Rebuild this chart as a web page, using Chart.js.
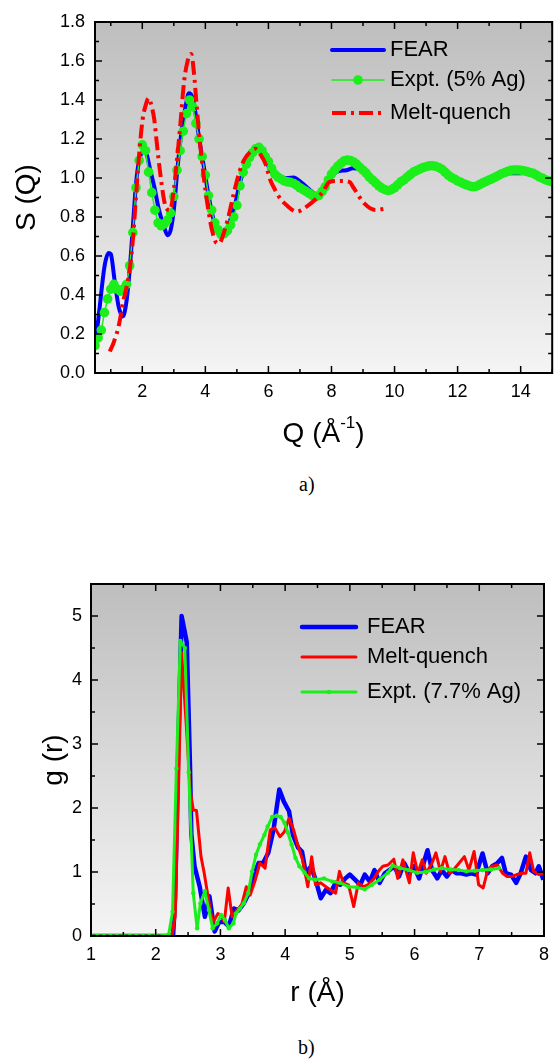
<!DOCTYPE html>
<html>
<head>
<meta charset="utf-8">
<script src="https://cdn.jsdelivr.net/npm/chart.js@4.4.1/dist/chart.umd.min.js"></script>
<style>
  html, body { margin: 0; padding: 0; background: #fff; }
  body { width: 557px; height: 1059px; position: relative; overflow: hidden; }
  canvas { position: absolute; left: 0; }
  #chartA { top: 0; }
  #chartB { top: 540px; }
  .tag { position: absolute; font-family: "Liberation Serif", "Times New Roman", serif; font-size: 20px; line-height: 20px; color: #000; }
</style>
</head>
<body>
<canvas id="chartA" width="557" height="450" style="width:557px;height:450px"></canvas>
<div class="tag" style="left:299px;top:474px">a)</div>
<canvas id="chartB" width="557" height="480" style="width:557px;height:480px"></canvas>
<div class="tag" style="left:298px;top:1037px">b)</div>
<script>
// ---- S(Q) panel ----
const qTicks = [2, 4, 6, 8, 10, 12, 14];
const sTicks = [0.0, 0.2, 0.4, 0.6, 0.8, 1.0, 1.2, 1.4, 1.6, 1.8];

const fearQ = [0.5, 0.55, 0.65, 0.8, 0.93, 1.0, 1.12, 1.25, 1.38, 1.49, 1.59, 1.7, 1.8, 1.9, 2.03, 2.14, 2.24, 2.38,
  2.53, 2.69, 2.8, 2.9, 3.01, 3.11, 3.25, 3.37, 3.48, 3.58, 3.69, 3.81, 3.95, 4.08, 4.21, 4.34, 4.47, 4.63, 4.79,
  4.95, 5.1, 5.3, 5.5, 5.65, 5.8, 5.95, 6.16, 6.47, 6.79, 7.1, 7.42, 7.58, 7.84, 8.15, 8.47, 8.68, 8.9, 9.15, 9.4,
  9.65, 9.85, 10.1, 10.4, 10.7, 11.0, 11.3, 11.6, 11.9, 12.2, 12.5, 12.8, 13.1, 13.4, 13.7, 14.0, 14.4, 14.7, 15.0];
const fearS = [0.15, 0.2, 0.34, 0.545, 0.615, 0.61, 0.477, 0.34, 0.29, 0.357, 0.51, 0.75, 0.97, 1.09, 1.135, 1.12, 1.05, 0.955,
  0.835, 0.75, 0.707, 0.733, 0.853, 1.04, 1.246, 1.365, 1.434, 1.417, 1.33, 1.195, 1.06, 0.93, 0.82, 0.74, 0.70, 0.715, 0.785,
  0.87, 0.98, 1.07, 1.13, 1.155, 1.13, 1.075, 1.024, 0.998, 1.003, 0.97, 0.925, 0.913, 0.97, 1.03, 1.04, 1.05, 1.045, 1.015, 0.98,
  0.955, 0.948, 0.965, 1.0, 1.035, 1.05, 1.055, 1.035, 1.0, 0.975, 0.96, 0.975, 1.0, 1.02, 1.025, 1.025, 1.03, 1.005, 0.98];

const meltQ = [0.97, 1.1, 1.25, 1.4, 1.5, 1.6, 1.7, 1.8, 1.91, 2.01, 2.11, 2.2, 2.3, 2.38, 2.45, 2.53, 2.61, 2.69, 2.76,
  2.88, 3.01, 3.11, 3.21, 3.32, 3.42, 3.55, 3.64, 3.71, 3.79, 3.9, 4.0, 4.11, 4.21, 4.37, 4.47, 4.58, 4.73, 4.9, 5.06,
  5.22, 5.4, 5.58, 5.75, 5.9, 6.06, 6.16, 6.37, 6.58, 6.9, 7.21, 7.47, 7.73, 7.94, 8.2, 8.57, 8.7, 9.04, 9.4, 9.78];
const meltS = [0.11, 0.16, 0.24, 0.37, 0.44, 0.53, 0.68, 0.905, 1.14, 1.30, 1.375, 1.41, 1.365, 1.30, 1.195, 1.075, 0.973, 0.887, 0.845,
  0.835, 0.955, 1.11, 1.28, 1.486, 1.588, 1.636, 1.537, 1.40, 1.246, 1.075, 0.94, 0.82, 0.733, 0.665, 0.67, 0.716, 0.80, 0.92, 1.02,
  1.09, 1.13, 1.15, 1.12, 1.075, 0.99, 0.955, 0.895, 0.86, 0.827, 0.853, 0.887, 0.93, 0.98, 0.985, 0.98, 0.95, 0.87, 0.836, 0.845];

const exptQ = [0.5, 0.6, 0.7, 0.8, 0.9, 1.0, 1.1, 1.2, 1.3, 1.4, 1.5, 1.6, 1.7, 1.8, 1.9, 2.0, 2.1, 2.2, 2.3, 2.4,
  2.5, 2.6, 2.7, 2.8, 2.9, 3.0, 3.1, 3.2, 3.3, 3.4, 3.5, 3.6, 3.7, 3.8, 3.9, 4.0, 4.1, 4.2, 4.3, 4.4,
  4.5, 4.6, 4.7, 4.8, 4.9, 5.0, 5.1, 5.2, 5.3, 5.4, 5.5, 5.6, 5.7, 5.8, 5.9, 6.0, 6.1, 6.2, 6.3, 6.4,
  6.5, 6.6, 6.7, 6.8, 6.9, 7.0, 7.1, 7.2, 7.3, 7.4, 7.5, 7.6, 7.7, 7.8, 7.9, 8.0, 8.1, 8.2, 8.3, 8.4,
  8.5, 8.6, 8.7, 8.8, 8.9, 9.0, 9.1, 9.2, 9.3, 9.4, 9.5, 9.6, 9.7, 9.8, 9.9, 10.0, 10.1, 10.2, 10.3, 10.4,
  10.5, 10.6, 10.7, 10.8, 10.9, 11.0, 11.1, 11.2, 11.3, 11.4, 11.5, 11.6, 11.7, 11.8, 11.9, 12.0, 12.1, 12.2, 12.3, 12.4,
  12.5, 12.6, 12.7, 12.8, 12.9, 13.0, 13.1, 13.2, 13.3, 13.4, 13.5, 13.6, 13.7, 13.8, 13.9, 14.0, 14.1, 14.2, 14.3, 14.4,
  14.5, 14.6, 14.7, 14.8, 14.9, 15.0];
const exptS = [0.14, 0.18, 0.22, 0.31, 0.38, 0.43, 0.455, 0.43, 0.42, 0.43, 0.455, 0.55, 0.72, 0.95, 1.09, 1.17, 1.14, 1.03, 0.925, 0.835,
  0.77, 0.755, 0.765, 0.785, 0.82, 0.905, 1.04, 1.14, 1.24, 1.33, 1.40, 1.365, 1.28, 1.20, 1.11, 1.015, 0.91, 0.835, 0.77, 0.735,
  0.71, 0.715, 0.73, 0.76, 0.80, 0.86, 0.96, 1.03, 1.07, 1.105, 1.13, 1.15, 1.157, 1.14, 1.11, 1.085, 1.05, 1.02, 1.005, 0.995,
  0.985, 0.98, 0.978, 0.972, 0.962, 0.95, 0.94, 0.93, 0.92, 0.91, 0.905, 0.91, 0.93, 0.955, 0.99, 1.02, 1.04, 1.06, 1.075, 1.088,
  1.092, 1.09, 1.082, 1.07, 1.055, 1.04, 1.025, 1.005, 0.99, 0.975, 0.96, 0.948, 0.94, 0.935, 0.94, 0.95, 0.965, 0.98, 0.99, 1.005,
  1.018, 1.03, 1.038, 1.046, 1.053, 1.058, 1.062, 1.063, 1.06, 1.054, 1.045, 1.03, 1.015, 1.003, 0.995, 0.985, 0.978, 0.97, 0.964, 0.958,
  0.955, 0.958, 0.966, 0.975, 0.982, 0.99, 0.997, 1.005, 1.013, 1.022, 1.028, 1.035, 1.04, 1.041, 1.041, 1.04, 1.037, 1.033, 1.028, 1.024,
  1.015, 1.005, 0.998, 0.99, 0.985, 0.98];

// ---- g(r) panel ----
const rTicks = [1, 2, 3, 4, 5, 6, 7, 8];
const gTicks = [0, 1, 2, 3, 4, 5];

const fearR = [1.0, 2.2, 2.27, 2.3, 2.35, 2.4, 2.48, 2.53, 2.55, 2.6, 2.68, 2.76, 2.83, 2.91, 2.98, 3.06, 3.13, 3.21, 3.28,
  3.36, 3.44, 3.51, 3.59, 3.66, 3.74, 3.82, 3.91, 3.98, 4.06, 4.12, 4.2, 4.26, 4.32, 4.4, 4.47, 4.55, 4.63, 4.7, 4.78,
  4.85, 4.93, 5.0, 5.08, 5.16, 5.23, 5.31, 5.38, 5.46, 5.54, 5.61, 5.69, 5.76, 5.84, 5.92, 5.99, 6.07, 6.14, 6.2, 6.27,
  6.35, 6.42, 6.5, 6.57, 6.65, 6.72, 6.8, 6.88, 6.95, 7.05, 7.13, 7.2, 7.28, 7.35, 7.41, 7.49, 7.57, 7.64, 7.72, 7.8,
  7.87, 7.92, 7.99];
const fearG = [0, 0, 0.03, 0.6, 3.0, 5.0, 4.59, 2.65, 1.6, 1.09, 0.77, 0.3, 0.62, 0.07, 0.22, 0.22, 0.15, 0.43, 0.4,
  0.51, 0.67, 0.93, 1.14, 1.14, 1.3, 1.66, 2.29, 2.1, 1.95, 1.58, 1.38, 1.32, 0.98, 1.09, 0.88, 0.59, 0.72, 0.67, 0.83,
  0.8, 0.9, 0.96, 0.88, 0.8, 0.96, 0.85, 1.03, 0.83, 0.98, 1.03, 1.09, 0.93, 1.14, 0.98, 1.09, 0.9, 1.14, 1.34, 1.03,
  0.9, 1.03, 0.93, 1.03, 0.98, 0.98, 0.96, 0.98, 0.96, 1.29, 0.98, 1.09, 1.14, 1.22, 0.98, 0.96, 0.83, 0.98, 1.24, 1.03,
  0.98, 1.09, 0.88];

const meltR = [1.0, 2.25, 2.3, 2.35, 2.4, 2.48, 2.53, 2.58, 2.63, 2.7, 2.75, 2.8, 2.88, 2.96, 3.0, 3.06, 3.12, 3.18, 3.26,
  3.33, 3.4, 3.46, 3.54, 3.61, 3.69, 3.77, 3.84, 3.92, 3.99, 4.06, 4.13, 4.2, 4.27, 4.35, 4.41, 4.47, 4.55, 4.63, 4.7,
  4.78, 4.84, 4.9, 4.98, 5.06, 5.13, 5.21, 5.28, 5.36, 5.44, 5.51, 5.59, 5.68, 5.74, 5.82, 5.92, 5.98, 6.05, 6.12, 6.18,
  6.27, 6.33, 6.4, 6.47, 6.54, 6.6, 6.69, 6.77, 6.84, 6.92, 6.99, 7.06, 7.13, 7.2, 7.28, 7.36, 7.43, 7.51, 7.58, 7.66,
  7.72, 7.78, 7.84, 7.92, 8.0];
const meltG = [0, 0, 0.3, 2.2, 4.43, 3.18, 2.3, 1.97, 1.96, 1.24, 0.98, 0.67, 0.2, 0.35, 0.33, 0.22, 0.75, 0.3, 0.41,
  0.49, 0.77, 0.64, 0.88, 1.14, 1.06, 1.66, 1.69, 1.55, 1.63, 1.84, 1.66, 1.4, 1.19, 0.77, 1.24, 0.8, 0.83, 0.77, 0.72,
  0.67, 1.01, 0.83, 0.8, 0.46, 0.83, 0.77, 0.8, 0.88, 1.01, 1.09, 1.11, 1.2, 0.9, 1.19, 0.83, 1.3, 0.98, 1.19, 0.98,
  1.14, 1.3, 1.01, 1.24, 0.98, 1.03, 1.14, 1.24, 1.03, 1.32, 0.8, 0.75, 1.03, 1.09, 1.11, 0.98, 0.93, 0.93, 0.96, 0.98,
  0.98, 1.3, 1.01, 0.96, 0.98];

const exptR = [1.0, 1.1, 1.2, 1.3, 1.4, 1.5, 1.6, 1.7, 1.8, 1.9, 2.0, 2.1, 2.2, 2.26, 2.32, 2.38, 2.45, 2.51, 2.58, 2.64,
  2.69, 2.76, 2.82, 2.88, 2.95, 3.01, 3.07, 3.13, 3.2, 3.24, 3.3, 3.36, 3.43, 3.49, 3.55, 3.61, 3.68, 3.73, 3.8, 3.87,
  3.93, 3.99, 4.04, 4.1, 4.16, 4.22, 4.3, 4.37, 4.47, 4.6, 4.73, 4.85, 4.98, 5.11, 5.23, 5.34, 5.46, 5.59, 5.66, 5.78,
  5.91, 6.04, 6.17, 6.3, 6.42, 6.55, 6.68, 6.8, 6.93, 7.05, 7.18, 7.3];
const exptG = [0, 0, 0, 0, 0, 0, 0, 0, 0, 0, 0, 0, 0.02, 0.38, 2.62, 4.61, 4.5, 2.56, 0.67, 0.12,
  0.51, 0.7, 0.41, 0.12, 0.2, 0.33, 0.25, 0.12, 0.2, 0.35, 0.43, 0.51, 0.67, 1.01, 1.27, 1.43, 1.58, 1.71, 1.86, 1.88,
  1.86, 1.77, 1.62, 1.43, 1.22, 1.09, 0.99, 0.9, 0.88, 0.9, 0.85, 0.83, 0.77, 0.76, 0.73, 0.8, 0.88, 0.99, 1.1, 1.06,
  1.03, 0.99, 1.0, 1.04, 1.06, 1.04, 1.03, 1.01, 1.02, 1.03, 1.04, 1.06];

const pts = (xs, ys) => xs.map((v, i) => ({ x: v, y: ys[i] }));

const FONT = '"Liberation Sans", Arial, Helvetica, sans-serif';
const BLUE = '#0000ff';
const RED = '#ff0000';
const GREEN = '#1aef1a';

// gray gradient inside the plot, black frame with inward ticks on all four sides
const framePlugin = {
  id: 'frame',
  beforeDatasetsDraw(chart) {
    const { ctx, chartArea: a } = chart;
    const grad = ctx.createLinearGradient(0, a.top, 0, a.bottom);
    grad.addColorStop(0, '#bebebe');
    grad.addColorStop(1, '#f4f4f4');
    ctx.save();
    ctx.fillStyle = grad;
    ctx.fillRect(a.left, a.top, a.right - a.left, a.bottom - a.top);
    ctx.restore();
  },
  afterDatasetsDraw(chart, args, o) {
    const { ctx, chartArea: a, scales: { x, y } } = chart;
    ctx.save();
    ctx.strokeStyle = '#000';
    ctx.lineWidth = 1.5;
    ctx.beginPath();
    const n = Math.round((x.max - x.min) / o.xMinor) + 1;
    for (let i = 0; i <= n; i++) {
      const v = Math.ceil(x.min / o.xMinor - 1e-9) * o.xMinor + i * o.xMinor;
      if (v > x.max + 1e-9) break;
      const major = Math.abs(v / o.xMajor - Math.round(v / o.xMajor)) < 1e-6;
      const len = major ? 7 : 4;
      const px = x.getPixelForValue(v);
      ctx.moveTo(px, a.bottom); ctx.lineTo(px, a.bottom - len);
      ctx.moveTo(px, a.top); ctx.lineTo(px, a.top + len);
    }
    const m = Math.round((y.max - y.min) / o.yMinor) + 1;
    for (let i = 0; i <= m; i++) {
      const v = y.min + i * o.yMinor;
      if (v > y.max + 1e-9) break;
      const major = Math.abs(v / o.yMajor - Math.round(v / o.yMajor)) < 1e-6;
      const len = major ? 7 : 4;
      const py = y.getPixelForValue(v);
      ctx.moveTo(a.left, py); ctx.lineTo(a.left + len, py);
      ctx.moveTo(a.right, py); ctx.lineTo(a.right - len, py);
    }
    ctx.stroke();
    ctx.lineWidth = 2;
    ctx.strokeRect(a.left, a.top, a.right - a.left, a.bottom - a.top);
    ctx.restore();
  }
};

// legend drawn inside the plot area
const legendPlugin = {
  id: 'innerLegend',
  afterDraw(chart, args, o) {
    const ctx = chart.ctx;
    ctx.save();
    ctx.font = o.font;
    ctx.textBaseline = 'middle';
    ctx.textAlign = 'left';
    o.rows.forEach(row => {
      const ds = chart.data.datasets[row.index];
      ctx.strokeStyle = ds.borderColor;
      ctx.lineWidth = ds.borderWidth;
      ctx.setLineDash(ds.borderDash || []);
      ctx.lineCap = ds.borderDash ? 'butt' : 'round';
      ctx.beginPath();
      ctx.moveTo(o.x0, row.y);
      ctx.lineTo(o.x1, row.y);
      ctx.stroke();
      ctx.setLineDash([]);
      if (ds.pointRadius) {
        ctx.fillStyle = ds.pointBackgroundColor;
        ctx.beginPath();
        ctx.arc((o.x0 + o.x1) / 2, row.y, ds.pointRadius, 0, Math.PI * 2);
        ctx.fill();
      }
      ctx.fillStyle = '#000';
      ctx.fillText(ds.label, o.tx, row.y);
    });
    ctx.restore();
  }
};

// axis titles; x title may carry a superscript piece
const titlePlugin = {
  id: 'axisTitles',
  afterDraw(chart, args, o) {
    const { ctx, chartArea: a } = chart;
    ctx.save();
    ctx.fillStyle = '#000';
    ctx.textBaseline = 'alphabetic';
    ctx.font = '28px ' + FONT;
    ctx.save();
    ctx.translate(o.yTitleX, (a.top + a.bottom) / 2);
    ctx.rotate(-Math.PI / 2);
    ctx.textAlign = 'center';
    ctx.fillText(o.yTitle, 0, 0);
    ctx.restore();

    ctx.textAlign = 'left';
    const parts = o.xTitle.map(p => {
      ctx.font = (p.sup ? '17px ' : '28px ') + FONT;
      return { ...p, w: ctx.measureText(p.text).width };
    });
    const total = parts.reduce((s, p) => s + p.w, 0);
    let cx = (a.left + a.right) / 2 - total / 2;
    parts.forEach(p => {
      ctx.font = (p.sup ? '17px ' : '28px ') + FONT;
      ctx.fillText(p.text, cx, o.xTitleY - (p.sup ? 14 : 0));
      cx += p.w;
    });
    ctx.restore();
  }
};

function axis(min, max, tickList, fmt, size, pad) {
  return {
    type: 'linear',
    min: min,
    max: max,
    grid: { display: false, drawTicks: false },
    border: { display: false },
    ticks: {
      color: '#000',
      font: { family: FONT, size: 18 },
      padding: pad,
      autoSkip: false,
      maxRotation: 0,
      callback: fmt
    },
    afterBuildTicks: s => { s.ticks = tickList.map(v => ({ value: v })); },
    afterFit: s => { if (s.isHorizontal()) s.height = size; else s.width = size; }
  };
}

Chart.defaults.font.family = FONT;

new Chart(document.getElementById('chartA'), {
  type: 'line',
  data: {
    datasets: [
      {
        label: 'FEAR', data: pts(fearQ, fearS), borderColor: BLUE, borderWidth: 4,
        pointRadius: 0, cubicInterpolationMode: 'monotone', order: 3
      },
      {
        label: 'Expt. (5% Ag)', data: pts(exptQ, exptS), borderColor: GREEN, borderWidth: 1.5,
        pointRadius: 4.8, pointBackgroundColor: GREEN, pointBorderWidth: 0, tension: 0, order: 2
      },
      {
        label: 'Melt-quench', data: pts(meltQ, meltS), borderColor: RED, borderWidth: 4,
        borderDash: [14, 5, 3, 5], pointRadius: 0, cubicInterpolationMode: 'monotone', order: 1
      }
    ]
  },
  options: {
    responsive: false,
    animation: false,
    events: [],
    layout: { padding: { top: 22, right: 1, left: 0, bottom: 0 } },
    scales: {
      x: axis(0.5, 15, qTicks, v => String(v), 77, 8),
      y: axis(0, 1.8, sTicks, v => v.toFixed(1), 95, 10)
    },
    plugins: {
      legend: { display: false },
      tooltip: { enabled: false },
      frame: { xMajor: 2, xMinor: 1, yMajor: 0.2, yMinor: 0.1 },
      innerLegend: {
        font: '22px ' + FONT, x0: 332, x1: 384, tx: 390,
        rows: [{ index: 0, y: 50 }, { index: 1, y: 80 }, { index: 2, y: 113 }]
      },
      axisTitles: {
        yTitle: 'S (Q)', yTitleX: 35,
        xTitle: [{ text: 'Q (Å' }, { text: '-1', sup: true }, { text: ')' }], xTitleY: 442
      }
    }
  },
  plugins: [framePlugin, legendPlugin, titlePlugin]
});

new Chart(document.getElementById('chartB'), {
  type: 'line',
  data: {
    datasets: [
      {
        label: 'FEAR', data: pts(fearR, fearG), borderColor: BLUE, borderWidth: 4.5,
        borderJoinStyle: 'round', pointRadius: 0, tension: 0, order: 3
      },
      {
        label: 'Melt-quench', data: pts(meltR, meltG), borderColor: RED, borderWidth: 3,
        borderJoinStyle: 'round', pointRadius: 0, tension: 0, order: 2
      },
      {
        label: 'Expt. (7.7% Ag)', data: pts(exptR, exptG), borderColor: GREEN, borderWidth: 3,
        borderJoinStyle: 'round', pointRadius: 2.2, pointBackgroundColor: GREEN, pointBorderWidth: 0,
        tension: 0, order: 1
      }
    ]
  },
  options: {
    responsive: false,
    animation: false,
    events: [],
    layout: { padding: { top: 44, right: 5, left: 0, bottom: 0 } },
    scales: {
      x: axis(1, 8, rTicks, v => String(v), 84, 8),
      y: axis(0, 5.5, gTicks, v => String(v), 91, 9)
    },
    plugins: {
      legend: { display: false },
      tooltip: { enabled: false },
      frame: { xMajor: 1, xMinor: 0.5, yMajor: 1, yMinor: 0.5 },
      innerLegend: {
        font: '22px ' + FONT, x0: 302, x1: 356, tx: 367,
        rows: [{ index: 0, y: 87 }, { index: 1, y: 117 }, { index: 2, y: 152 }]
      },
      axisTitles: {
        yTitle: 'g (r)', yTitleX: 62,
        xTitle: [{ text: 'r (Å)' }], xTitleY: 461
      }
    }
  },
  plugins: [framePlugin, legendPlugin, titlePlugin]
});
</script>
</body>
</html>
